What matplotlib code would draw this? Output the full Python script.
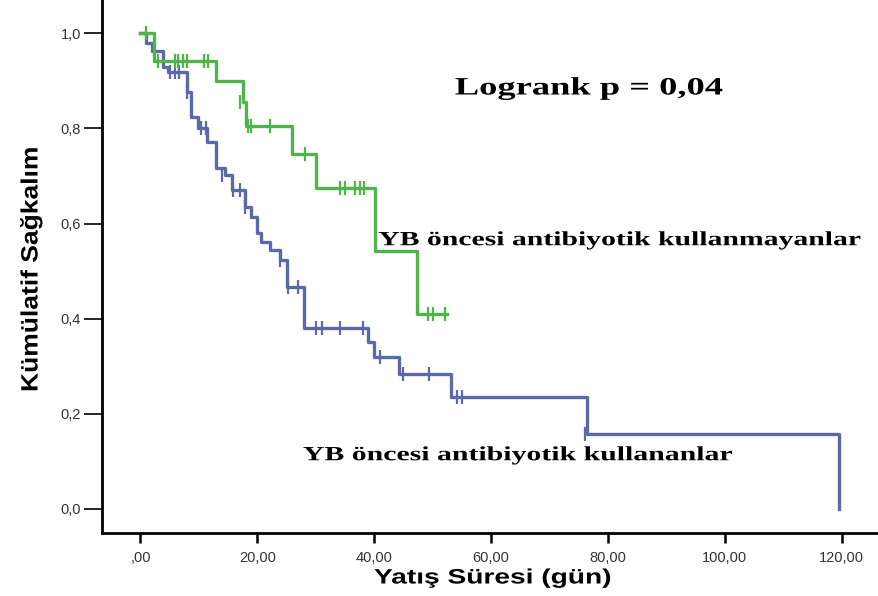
import matplotlib
matplotlib.use("Agg")
import matplotlib.pyplot as plt
from matplotlib.ticker import FuncFormatter
from matplotlib.patheffects import AbstractPathEffect
from matplotlib.transforms import Affine2D

# Green group: YB öncesi antibiyotik kullanmayanlar (event times, survival after event)
green_times = [0.0, 2.4, 13.0, 17.6, 18.0, 26.0, 30.1, 40.2, 47.3]
green_surv = [1.0, 0.942, 0.900, 0.856, 0.805, 0.746, 0.675, 0.542, 0.409]
green_end = 52.4
green_cens_t = [1.0, 3.0, 5.9, 6.4, 7.3, 8.0, 10.8, 11.6, 17.0, 18.4, 19.0, 22.1, 28.1,
                34.1, 35.0, 36.7, 37.6, 38.3, 49.2, 50.1, 52.1]
green_cens_s = [1.0, 0.942, 0.942, 0.942, 0.942, 0.942, 0.942, 0.942, 0.856, 0.805, 0.805,
                0.805, 0.746, 0.675, 0.675, 0.675, 0.675, 0.675, 0.409, 0.409, 0.409]

# Blue group: YB öncesi antibiyotik kullananlar
blue_times = [0.0, 1.0, 2.0, 3.8, 4.7, 8.0, 8.7, 9.9, 11.4, 13.0, 14.5, 15.6, 17.9, 19.0,
              19.9, 20.7, 22.1, 23.9, 25.0, 28.0, 39.0, 39.9, 44.3, 53.2, 76.4, 119.6]
blue_surv = [1.0, 0.979, 0.962, 0.930, 0.918, 0.877, 0.825, 0.800, 0.772, 0.716, 0.703,
             0.671, 0.635, 0.614, 0.580, 0.562, 0.544, 0.523, 0.467, 0.380, 0.350, 0.319,
             0.284, 0.236, 0.158, 0.0]
blue_cens_t = [5.0, 5.9, 6.6, 8.0, 10.4, 11.3, 13.9, 15.9, 17.0, 17.9, 23.9, 25.3, 27.0,
               30.0, 31.0, 34.1, 38.1, 41.0, 45.0, 49.4, 54.1, 55.0, 76.0]
blue_cens_s = [0.918, 0.918, 0.918, 0.877, 0.800, 0.800, 0.703, 0.671, 0.671, 0.635, 0.523,
               0.467, 0.467, 0.380, 0.380, 0.380, 0.380, 0.319, 0.284, 0.284, 0.236, 0.236,
               0.158]

x_ticks = [0, 20, 40, 60, 80, 100, 120]
y_ticks = [0.0, 0.2, 0.4, 0.6, 0.8, 1.0]

GREEN = "#4fb548"
BLUE = "#5a6aa8"


class Stretch(AbstractPathEffect):
    """Scale the glyph outlines along the text direction (sx) and across it (sy)."""

    def __init__(self, sx=1.0, sy=1.0):
        super().__init__()
        self.sx, self.sy = sx, sy

    def draw_path(self, renderer, gc, tpath, affine, rgbFace=None):
        renderer.draw_path(gc, tpath, Affine2D().scale(self.sx, self.sy) + affine, rgbFace)


fig = plt.figure(figsize=(8.79, 5.96), dpi=100)
W, H = 879, 596
ax = fig.add_axes([102 / W, (H - 533) / H, (W - 102) / W, 533 / H])

# Green step curve
gx = green_times + [green_end]
gy = green_surv + [green_surv[-1]]
ax.step(gx, gy, where="post", color=GREEN, lw=2.4, zorder=3)
ax.plot(green_cens_t, green_cens_s, ls="none", marker="|", ms=10, mew=1.6, color=GREEN, zorder=3)

# Blue step curve
ax.step(blue_times, blue_surv, where="post", color=BLUE, lw=2.4, zorder=2)
ax.plot(blue_cens_t, blue_cens_s, ls="none", marker="|", ms=10, mew=1.6, color=BLUE, zorder=2)

ax.set_xlim(-6.58, 126.4)
ax.set_ylim(-0.0505, 1.070)
ax.set_xticks(x_ticks)
ax.set_yticks(y_ticks)
ax.xaxis.set_major_formatter(FuncFormatter(
    lambda v, p: ",00" if v == 0 else f"{v:.2f}".replace(".", ",")))
ax.yaxis.set_major_formatter(FuncFormatter(lambda v, p: f"{v:.1f}".replace(".", ",")))

for s in ["top", "right"]:
    ax.spines[s].set_visible(False)
for s in ["left", "bottom"]:
    ax.spines[s].set_linewidth(2.0)

ax.tick_params(axis="x", length=7, width=1.8, labelsize=10.5, pad=6, colors="black")
ax.tick_params(axis="y", length=13, width=1.2, labelsize=10.5, pad=2, colors="black")
for lab in ax.get_xticklabels() + ax.get_yticklabels():
    lab.set_family("Liberation Sans")
    lab.set_color("#333333")

fig.text(374 / W, 1 - 578 / H, "Yatış Süresi (gün)", ha="left", va="center",
         fontsize=15, fontweight="bold", family=["Liberation Sans", "DejaVu Sans"],
         path_effects=[Stretch(1.35, 1.0)])
fig.text(31 / W, 1 - 392 / H, "Kümülatif Sağkalım", rotation=90, ha="center",
         va="bottom", fontsize=17, fontweight="bold",
         family=["Liberation Sans", "DejaVu Sans"],
         path_effects=[Stretch(1.12, 1.0)])

serif = ["Liberation Serif", "DejaVu Serif"]
ax.text(53.8, 0.885, "Logrank p = 0,04", fontsize=18, fontweight="bold", family=serif,
        ha="left", va="center", path_effects=[Stretch(1.46, 1.0)])
ax.text(40.7, 0.565, "YB öncesi antibiyotik kullanmayanlar", fontsize=14.5,
        fontweight="bold", family=serif, ha="left", va="center",
        path_effects=[Stretch(1.475, 1.0)])
ax.text(27.8, 0.113, "YB öncesi antibiyotik kullananlar", fontsize=14.5,
        fontweight="bold", family=serif, ha="left", va="center",
        path_effects=[Stretch(1.48, 1.0)])

fig.savefig("out.png", dpi=100)
